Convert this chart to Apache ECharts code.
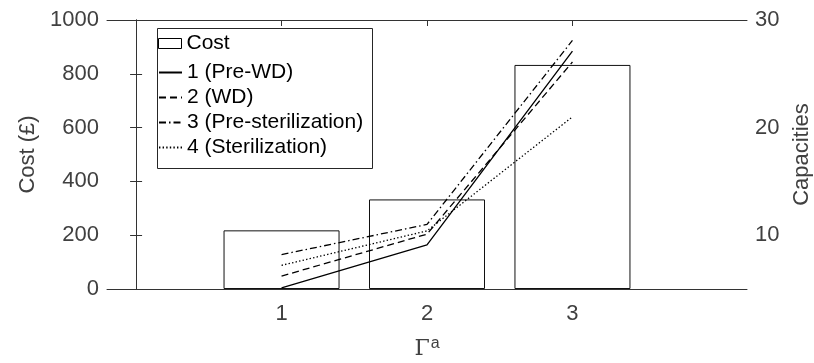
<!DOCTYPE html>
<html><head><meta charset="utf-8">
<script src="https://cdn.jsdelivr.net/npm/echarts@6/dist/echarts.min.js"></script>
<style>html,body{margin:0;padding:0;background:#fff}#c{width:814px;height:363px}</style>
</head><body><div id="c"></div>
<script>
const categories = [1, 2, 3];
const costValues = [218, 333, 833];
const preWD = [5.1, 9.1, 27.1];
const wd = [6.2, 10.1, 26.1];
const preSter = [8.2, 11.0, 28.1];
const ster = [7.2, 10.4, 21.0];
const seriesNames = ['Cost', '1 (Pre-WD)', '2 (WD)', '3 (Pre-sterilization)', '4 (Sterilization)'];
const rightLabelTicks = [10, 20, 30];

const FONT = 'Liberation Sans, Arial, Helvetica, sans-serif';
const AX = '#333333';
const LBL = '#404040';
const pair = (vals) => categories.map((c, i) => [c, vals[i]]);

const chart = echarts.init(document.getElementById('c'), null, {renderer: 'canvas'});
const lineSeries = (name, vals, type) => ({
  name, type: 'line', yAxisIndex: 1, xAxisIndex: 0, data: pair(vals),
  symbol: 'none', showSymbol: false, z: 5,
  lineStyle: {color: '#000', width: 1.3, type: type},
  itemStyle: {color: '#000'}
});

chart.setOption({
  animation: false,
  textStyle: {fontFamily: FONT},
  grid: {left: 107, right: 67, top: 20, bottom: 74, show: false, containLabel: false, outerBoundsMode: 'none'},
  graphic: [{type: 'rect', left: 157, top: 28, z: 3,
    shape: {width: 215, height: 140},
    style: {fill: '#fff', stroke: '#262626', lineWidth: 1}}],
  legend: [
    {data: [{name: seriesNames[0], icon: 'rect', itemStyle: {color: '#fff', borderColor: '#000', borderWidth: 1}}],
     left: 158, top: 33, orient: 'vertical', itemWidth: 23, itemHeight: 10, itemGap: 4, z: 10,
     padding: 0, textStyle: {fontSize: 21, color: '#000', fontFamily: FONT}},
    {data: seriesNames.slice(1).map(n => ({name: n, itemStyle: {opacity: 0}})),
     left: 158, top: 62, orient: 'vertical',
     itemWidth: 23, itemHeight: 10, itemGap: 4, z: 10, padding: 0,
     textStyle: {fontSize: 21, color: '#000', fontFamily: FONT}}
  ],
  xAxis: [
    {type: 'value', min: -0.2, max: 4.2, position: 'bottom',
     axisLine: {show: true, lineStyle: {color: AX, width: 1}},
     axisTick: {show: true, inside: true, length: 6, customValues: categories, lineStyle: {color: AX}},
     axisLabel: {show: true, customValues: categories, fontSize: 22, color: LBL, margin: 14, fontFamily: FONT,
       formatter: v => String(v)},
     splitLine: {show: false},
     name: '{g|Γ}{s|a}', nameLocation: 'middle', nameGap: 47,
     nameTextStyle: {rich: {
       g: {fontFamily: 'DejaVu Serif, Liberation Serif, serif', fontSize: 22, color: LBL, lineHeight: 24, verticalAlign: 'bottom'},
       s: {fontFamily: FONT, fontSize: 16, color: LBL, lineHeight: 24, verticalAlign: 'top', padding: [0, 0, 0, 1]}
     }}},
    {type: 'value', min: -0.2, max: 4.2, position: 'top',
     axisLine: {show: true, lineStyle: {color: AX, width: 1}},
     axisTick: {show: true, inside: true, length: 6, customValues: categories, lineStyle: {color: AX}},
     axisLabel: {show: false}, splitLine: {show: false}}
  ],
  yAxis: [
    {type: 'value', min: 0, max: 1000, interval: 200, position: 'left',
     axisLine: {show: true, lineStyle: {color: AX, width: 1}},
     axisTick: {show: true, inside: true, length: 6, lineStyle: {color: AX}},
     axisLabel: {fontSize: 22, color: LBL, margin: 8, fontFamily: FONT, formatter: v => String(v)},
     splitLine: {show: false},
     name: 'Cost (£)', nameLocation: 'middle', nameGap: 66,
     nameTextStyle: {fontSize: 22, color: LBL, fontFamily: FONT}},
    {type: 'value', min: 5, max: 30, interval: 5, position: 'right',
     axisLine: {show: true, lineStyle: {color: AX, width: 1}},
     axisTick: {show: true, inside: true, length: 6, lineStyle: {color: AX}},
     axisLabel: {fontSize: 22, color: LBL, margin: 8, fontFamily: FONT,
       formatter: v => rightLabelTicks.includes(v) ? String(v) : ''},
     splitLine: {show: false},
     name: 'Capacities', nameLocation: 'middle', nameGap: 44,
     nameTextStyle: {fontSize: 22, color: LBL, fontFamily: FONT}}
  ],
  series: [
    {name: seriesNames[0], type: 'bar', xAxisIndex: 0, yAxisIndex: 0, data: pair(costValues),
     barWidth: 116, z: 2,
     itemStyle: {color: '#fff', borderColor: '#111', borderWidth: 1}},
    lineSeries(seriesNames[1], preWD, 'solid'),
    lineSeries(seriesNames[2], wd, [7, 4]),
    lineSeries(seriesNames[3], preSter, [7, 3, 1.5, 3]),
    lineSeries(seriesNames[4], ster, [1.4, 2.2])
  ]
});
</script></body></html>
